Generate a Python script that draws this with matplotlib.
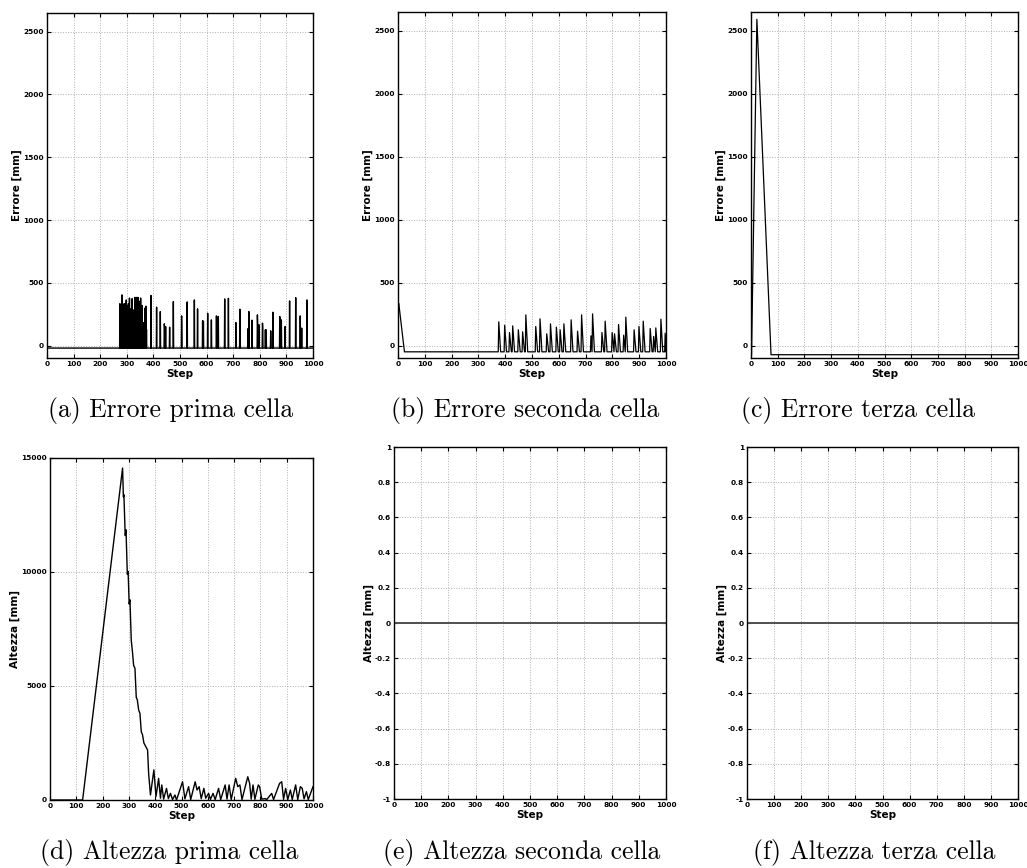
#!/usr/bin/env python3
"""Errore / altezza per cella: sei pannelli a griglia 2x3."""

import matplotlib

matplotlib.use("Agg")
import matplotlib.pyplot as plt
import numpy as np

N_STEPS = 1000

# (a) errore prima cella: valore di base + impulsi di un passo
A_BASE = -18
A_START = 410
A_DENSE_STEPS = [274, 276, 278, 280, 282, 284, 286, 288, 290, 292, 294, 296, 298, 300, 302, 304,
                 306, 308, 310, 312, 314, 316, 318, 320, 322, 324, 326, 328, 330, 332, 334, 336,
                 338, 340, 342, 344, 346, 348, 350, 352, 354, 356, 358, 360, 362, 364, 366, 368,
                 370, 372, 374]
A_DENSE_VALUES = [335, 160, 250, 160, 405, 170, 310, 150, 335, 170, 330, 175, 365, 160, 320, 170,
                  335, 150, 380, 175, 170, 295, 160, 375, 150, 175, 285, 170, 385, 165, 170, 385,
                  155, 175, 385, 160, 355, 170, 175, 380, 130, 150, 320, 145, 130, 185, 150, 300,
                  140, 315, 130]
A_SPARSE_STEPS = [391, 412, 426, 441, 442, 446, 461, 475, 506, 507, 527, 554, 566, 585, 588, 604,
                  618, 637, 644, 668, 682, 710, 711, 725, 756, 759, 771, 791, 792, 797, 810, 811,
                  821, 824, 841, 849, 875, 876, 881, 895, 912, 935, 952, 957, 958, 977]
A_SPARSE_VALUES = [400, 307, 272, 175, 150, 153, 148, 352, 238, 127, 349, 365, 294, 200, 195, 259,
                   206, 238, 233, 373, 378, 185, 127, 291, 137, 272, 204, 246, 167, 167, 180, 150,
                   127, 127, 119, 267, 233, 206, 206, 153, 357, 383, 238, 140, 140, 365]

# (b) errore seconda cella: discesa iniziale + picchi a rampa
B_BASE = -48
B_START_STEPS = [0, 3, 24]
B_START_VALUES = [320, 335, -48]
B_PEAK_STEPS = [375, 397, 415, 427, 448, 464, 476, 513, 529, 554, 568, 590, 604, 618, 645, 669,
                684, 719, 725, 760, 772, 798, 807, 822, 841, 849, 880, 898, 914, 940, 953, 961,
                980, 996]
B_PEAK_VALUES = [190, 163, 105, 158, 127, 111, 245, 153, 214, 95, 174, 148, 127, 174, 206, 116,
                 245, 79, 253, 105, 195, 105, 95, 169, 84, 227, 127, 153, 195, 137, 74, 142,
                 211, 100]
B_RAMP = 8

# (c) errore terza cella
C_STEPS = [0, 2, 22, 75, 1000]
C_VALUES = [-71, -71, 2590, -71, -71]

# (d) altezza prima cella
D_STEPS = [0, 124, 276, 279, 281, 286, 289, 294, 297, 301, 304, 309, 314, 318, 323, 328,
           332, 337, 342, 347, 352, 357, 361, 366, 371, 375, 382,
           395, 403, 413, 420, 425, 432, 443, 450, 458, 466, 475, 481, 504, 513, 527, 535,
           552, 559, 567, 575, 585, 592, 603, 610, 620, 628, 641, 649, 666, 673, 681, 689,
           706, 714, 722, 730, 752, 759, 765, 772, 779, 792, 797, 805, 818, 824, 843, 850,
           873, 881, 888, 896, 904, 914, 921, 934, 942, 952, 959, 966, 975, 982, 1000]
D_VALUES = [0, 0, 14560, 13300, 13390, 11600, 11850, 9900, 10025, 8600, 8780, 7000, 6440, 5900, 5780, 4500,
            4390, 3950, 3800, 3000, 2850, 2500, 2415, 2300, 2195, 1170, 220,
            1320, 150, 950, 80, 660, 40, 510, 60, 290, 20, 220, 0, 800, 50, 585, 20,
            800, 440, 585, 60, 510, 80, 290, 30, 290, 20, 510, 20, 660, 40, 660, 20,
            950, 585, 660, 20, 1020, 730, 40, 660, 30, 660, 585, 40, 60, 20, 290, 20,
            730, 800, 30, 510, 20, 440, 20, 660, 20, 585, 510, 50, 365, 20, 585]

# (e), (f) altezza seconda e terza cella: sempre zero
E_STEPS = [0, 1000]
E_VALUES = [0, 0]
F_STEPS = [0, 1000]
F_VALUES = [0, 0]

CAPTIONS = ["(a) Errore prima cella", "(b) Errore seconda cella", "(c) Errore terza cella",
            "(d) Altezza prima cella", "(e) Altezza seconda cella", "(f) Altezza terza cella"]

ERR_TICKS = [0, 500, 1000, 1500, 2000, 2500]
ALT1_TICKS = [0, 5000, 10000, 15000]
ALT_TICKS = [-1, -0.8, -0.6, -0.4, -0.2, 0, 0.2, 0.4, 0.6, 0.8, 1]
ALT_TICKLABELS = ["-1", "-0.8", "-0.6", "-0.4", "-0.2", "0", "0.2", "0.4", "0.6", "0.8", "1"]
STEP_TICKS = list(range(0, 1001, 100))

W, H = 1027, 868


def pulse_series(base, start, steps, values):
    y = np.full(N_STEPS + 1, float(base))
    y[0] = start
    for s, v in zip(steps, values):
        y[s] = v
    return np.arange(N_STEPS + 1), y


def ramp_series(base, start_x, start_y, peaks, values, ramp):
    xs, ys = list(start_x), list(start_y)
    for i, (s, v) in enumerate(zip(peaks, values)):
        nxt = peaks[i + 1] - 1 if i + 1 < len(peaks) else N_STEPS
        end = min(s + ramp, nxt)
        xs += [s - 1, s + 1, end]
        ys += [base, v, base]
    if xs[-1] < N_STEPS:
        xs.append(N_STEPS)
        ys.append(base)
    return xs, ys


def px_axes(fig, left, top, right, bottom):
    return fig.add_axes([left / W, 1 - bottom / H, (right - left) / W, (bottom - top) / H])


def style(ax, ylabel):
    ax.set_xlim(0, 1000)
    ax.set_xticks(STEP_TICKS)
    ax.grid(True, color="#b0b0b0", linestyle=":", linewidth=0.7)
    ax.tick_params(direction="in", top=True, right=True, length=3, width=0.8,
                   labelsize=5.3, pad=2)
    for lab in ax.get_xticklabels() + ax.get_yticklabels():
        lab.set_fontweight("bold")
    for sp in ax.spines.values():
        sp.set_linewidth(1.0)
    ax.set_xlabel("Step", fontsize=7.5, fontweight="bold", labelpad=1.5)
    ax.set_ylabel(ylabel, fontsize=7.5, fontweight="bold", labelpad=1)


def main() -> None:
    fig = plt.figure(figsize=(W / 100, H / 100), dpi=100)

    ax_a = px_axes(fig, 47, 13, 313, 358)
    ax_b = px_axes(fig, 398, 12, 666, 358)
    ax_c = px_axes(fig, 751, 12, 1018, 358)
    ax_d = px_axes(fig, 50, 458, 313, 800)
    ax_e = px_axes(fig, 394, 447, 666, 799)
    ax_f = px_axes(fig, 747, 447, 1018, 799)

    x, y = pulse_series(A_BASE, A_START, A_DENSE_STEPS + A_SPARSE_STEPS,
                        A_DENSE_VALUES + A_SPARSE_VALUES)
    ax_a.plot(x, y, color="black", linewidth=1.0)

    x, y = ramp_series(B_BASE, B_START_STEPS, B_START_VALUES, B_PEAK_STEPS, B_PEAK_VALUES, B_RAMP)
    ax_b.plot(x, y, color="black", linewidth=0.9)

    ax_c.plot(C_STEPS, C_VALUES, color="black", linewidth=0.9)
    ax_d.plot(D_STEPS, D_VALUES, color="black", linewidth=1.0)
    ax_e.plot(E_STEPS, E_VALUES, color="#505050", linewidth=1.4)
    ax_f.plot(F_STEPS, F_VALUES, color="#505050", linewidth=1.4)

    for ax in (ax_a, ax_b, ax_c):
        ax.set_ylim(-97, 2648)
        ax.set_yticks(ERR_TICKS)
        style(ax, "Errore [mm]")

    ax_d.set_ylim(0, 15000)
    ax_d.set_yticks(ALT1_TICKS)
    style(ax_d, "Altezza [mm]")

    for ax in (ax_e, ax_f):
        ax.set_ylim(-1, 1)
        ax.set_yticks(ALT_TICKS)
        ax.set_yticklabels(ALT_TICKLABELS)
        style(ax, "Altezza [mm]")

    cap_x = [171, 525, 858, 169, 522, 874]
    cap_y = [410, 410, 410, 853, 853, 853]
    for cx, cy, txt in zip(cap_x, cap_y, CAPTIONS):
        fig.text(cx / W, 1 - cy / H, txt, ha="center", va="center",
                 fontsize=18.5, family="cmr10")

    fig.savefig("out.png", dpi=100)
    plt.close(fig)


if __name__ == "__main__":
    main()
